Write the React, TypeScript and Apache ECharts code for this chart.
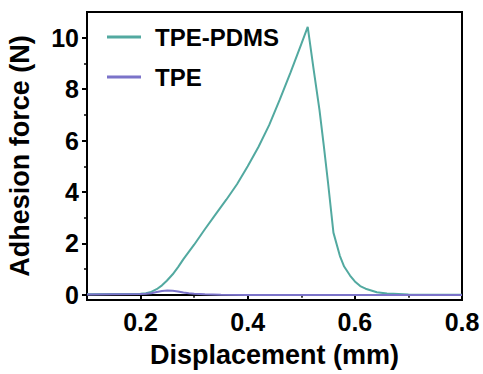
import React, { useEffect, useRef } from "react";
import * as echarts from "echarts";

const pdmsX = [0.1, 0.15, 0.2, 0.21, 0.218, 0.23, 0.24, 0.249, 0.26, 0.27, 0.28, 0.3, 0.32, 0.34, 0.36, 0.38, 0.4, 0.42, 0.44, 0.46, 0.48, 0.5, 0.512, 0.5225, 0.534, 0.542, 0.55, 0.56, 0.572, 0.58, 0.591, 0.6, 0.61, 0.62, 0.641, 0.66, 0.672, 0.7, 0.75, 0.8];
const pdmsY = [0.02, 0.03, 0.04, 0.06, 0.1, 0.22, 0.37, 0.55, 0.8, 1.08, 1.39, 1.95, 2.55, 3.13, 3.7, 4.3, 5.0, 5.75, 6.6, 7.6, 8.65, 9.75, 10.42, 8.85, 7.18, 5.8, 4.35, 2.42, 1.52, 1.1, 0.75, 0.52, 0.34, 0.24, 0.1, 0.05, 0.04, 0.01, 0, 0];

const tpeX = [0.1, 0.15, 0.2, 0.21, 0.22, 0.23, 0.24, 0.25, 0.26, 0.27, 0.28, 0.29, 0.3, 0.32, 0.35, 0.4, 0.5, 0.6, 0.7, 0.8];
const tpeY = [0.01, 0.02, 0.03, 0.04, 0.06, 0.11, 0.15, 0.17, 0.16, 0.13, 0.09, 0.06, 0.04, 0.02, 0.0, -0.01, -0.01, -0.01, -0.01, -0.01];

const xMajor = [0.2, 0.4, 0.6, 0.8];
const xMinor = [0.1, 0.3, 0.5, 0.7];
const yMajor = [0, 2, 4, 6, 8, 10];
const yMinor = [1, 3, 5, 7, 9];

const FONT = "'Liberation Sans', Arial, sans-serif";
const TEAL = "#52a9a0";
const PURPLE = "#7b73c9";

export default function App() {
  const ref = useRef<HTMLDivElement>(null);
  useEffect(() => {
    if (!ref.current) return;
    const chart = echarts.init(ref.current, undefined, { renderer: "svg" });
    const axisLine = { show: true, lineStyle: { color: "#000", width: 2 } };
    chart.setOption({
      animation: false,
      grid: { left: 87, right: 21, top: 12, bottom: 74, show: true, borderColor: "#000", borderWidth: 2, containLabel: false, outerBoundsMode: "none" },
      legend: {
        orient: "vertical",
        left: 107,
        top: 25,
        padding: 0,
        itemWidth: 34,
        itemHeight: 3,
        itemGap: 16,
        icon: "rect",
        textStyle: { fontFamily: FONT, fontWeight: "bold", fontSize: 24, color: "#000", padding: [0, 0, 0, 9] },
        data: ["TPE-PDMS", "TPE"],
      },
      xAxis: [
        {
          type: "value",
          min: 0.1,
          max: 0.8,
          position: "bottom",
          axisLine,
          splitLine: { show: false },
          axisTick: { show: true, inside: false, length: 5, lineStyle: { color: "#000", width: 2 }, customValues: xMajor },
          axisLabel: { fontFamily: FONT, fontWeight: "bold", fontSize: 25, color: "#000", margin: 9, customValues: xMajor, formatter: (v: number) => v.toFixed(1) },
          name: "Displacement (mm)",
          nameLocation: "middle",
          nameGap: 41,
          nameTextStyle: { fontFamily: FONT, fontWeight: "bold", fontSize: 27, color: "#000" },
        },
        {
          type: "value",
          min: 0.1,
          max: 0.8,
          position: "bottom",
          axisLine: { show: false },
          splitLine: { show: false },
          axisTick: { show: true, length: 3, lineStyle: { color: "#000", width: 1.5 }, customValues: xMinor },
          axisLabel: { show: false },
        },
      ],
      yAxis: [
        {
          type: "value",
          min: -0.2,
          max: 11,
          position: "left",
          axisLine,
          splitLine: { show: false },
          axisTick: { show: true, length: 5, lineStyle: { color: "#000", width: 2 }, customValues: yMajor },
          axisLabel: { fontFamily: FONT, fontWeight: "bold", fontSize: 25, color: "#000", margin: 8, customValues: yMajor },
          name: "Adhesion force (N)",
          nameLocation: "middle",
          nameGap: 54,
          nameTextStyle: { fontFamily: FONT, fontWeight: "bold", fontSize: 27, color: "#000" },
        },
        {
          type: "value",
          min: -0.2,
          max: 11,
          position: "left",
          axisLine: { show: false },
          splitLine: { show: false },
          axisTick: { show: true, length: 3, lineStyle: { color: "#000", width: 1.5 }, customValues: yMinor },
          axisLabel: { show: false },
        },
      ],
      series: [
        {
          name: "TPE-PDMS",
          type: "line",
          symbol: "none",
          color: TEAL,
          lineStyle: { width: 2, color: TEAL },
          data: pdmsX.map((x, i) => [x, pdmsY[i]]),
        },
        {
          name: "TPE",
          type: "line",
          symbol: "none",
          color: PURPLE,
          lineStyle: { width: 2, color: PURPLE },
          data: tpeX.map((x, i) => [x, tpeY[i]]),
        },
      ],
    });
    return () => chart.dispose();
  }, []);
  return <div ref={ref} style={{ width: 483, height: 374, position: "absolute", left: 0, top: 0 }} />;
}
